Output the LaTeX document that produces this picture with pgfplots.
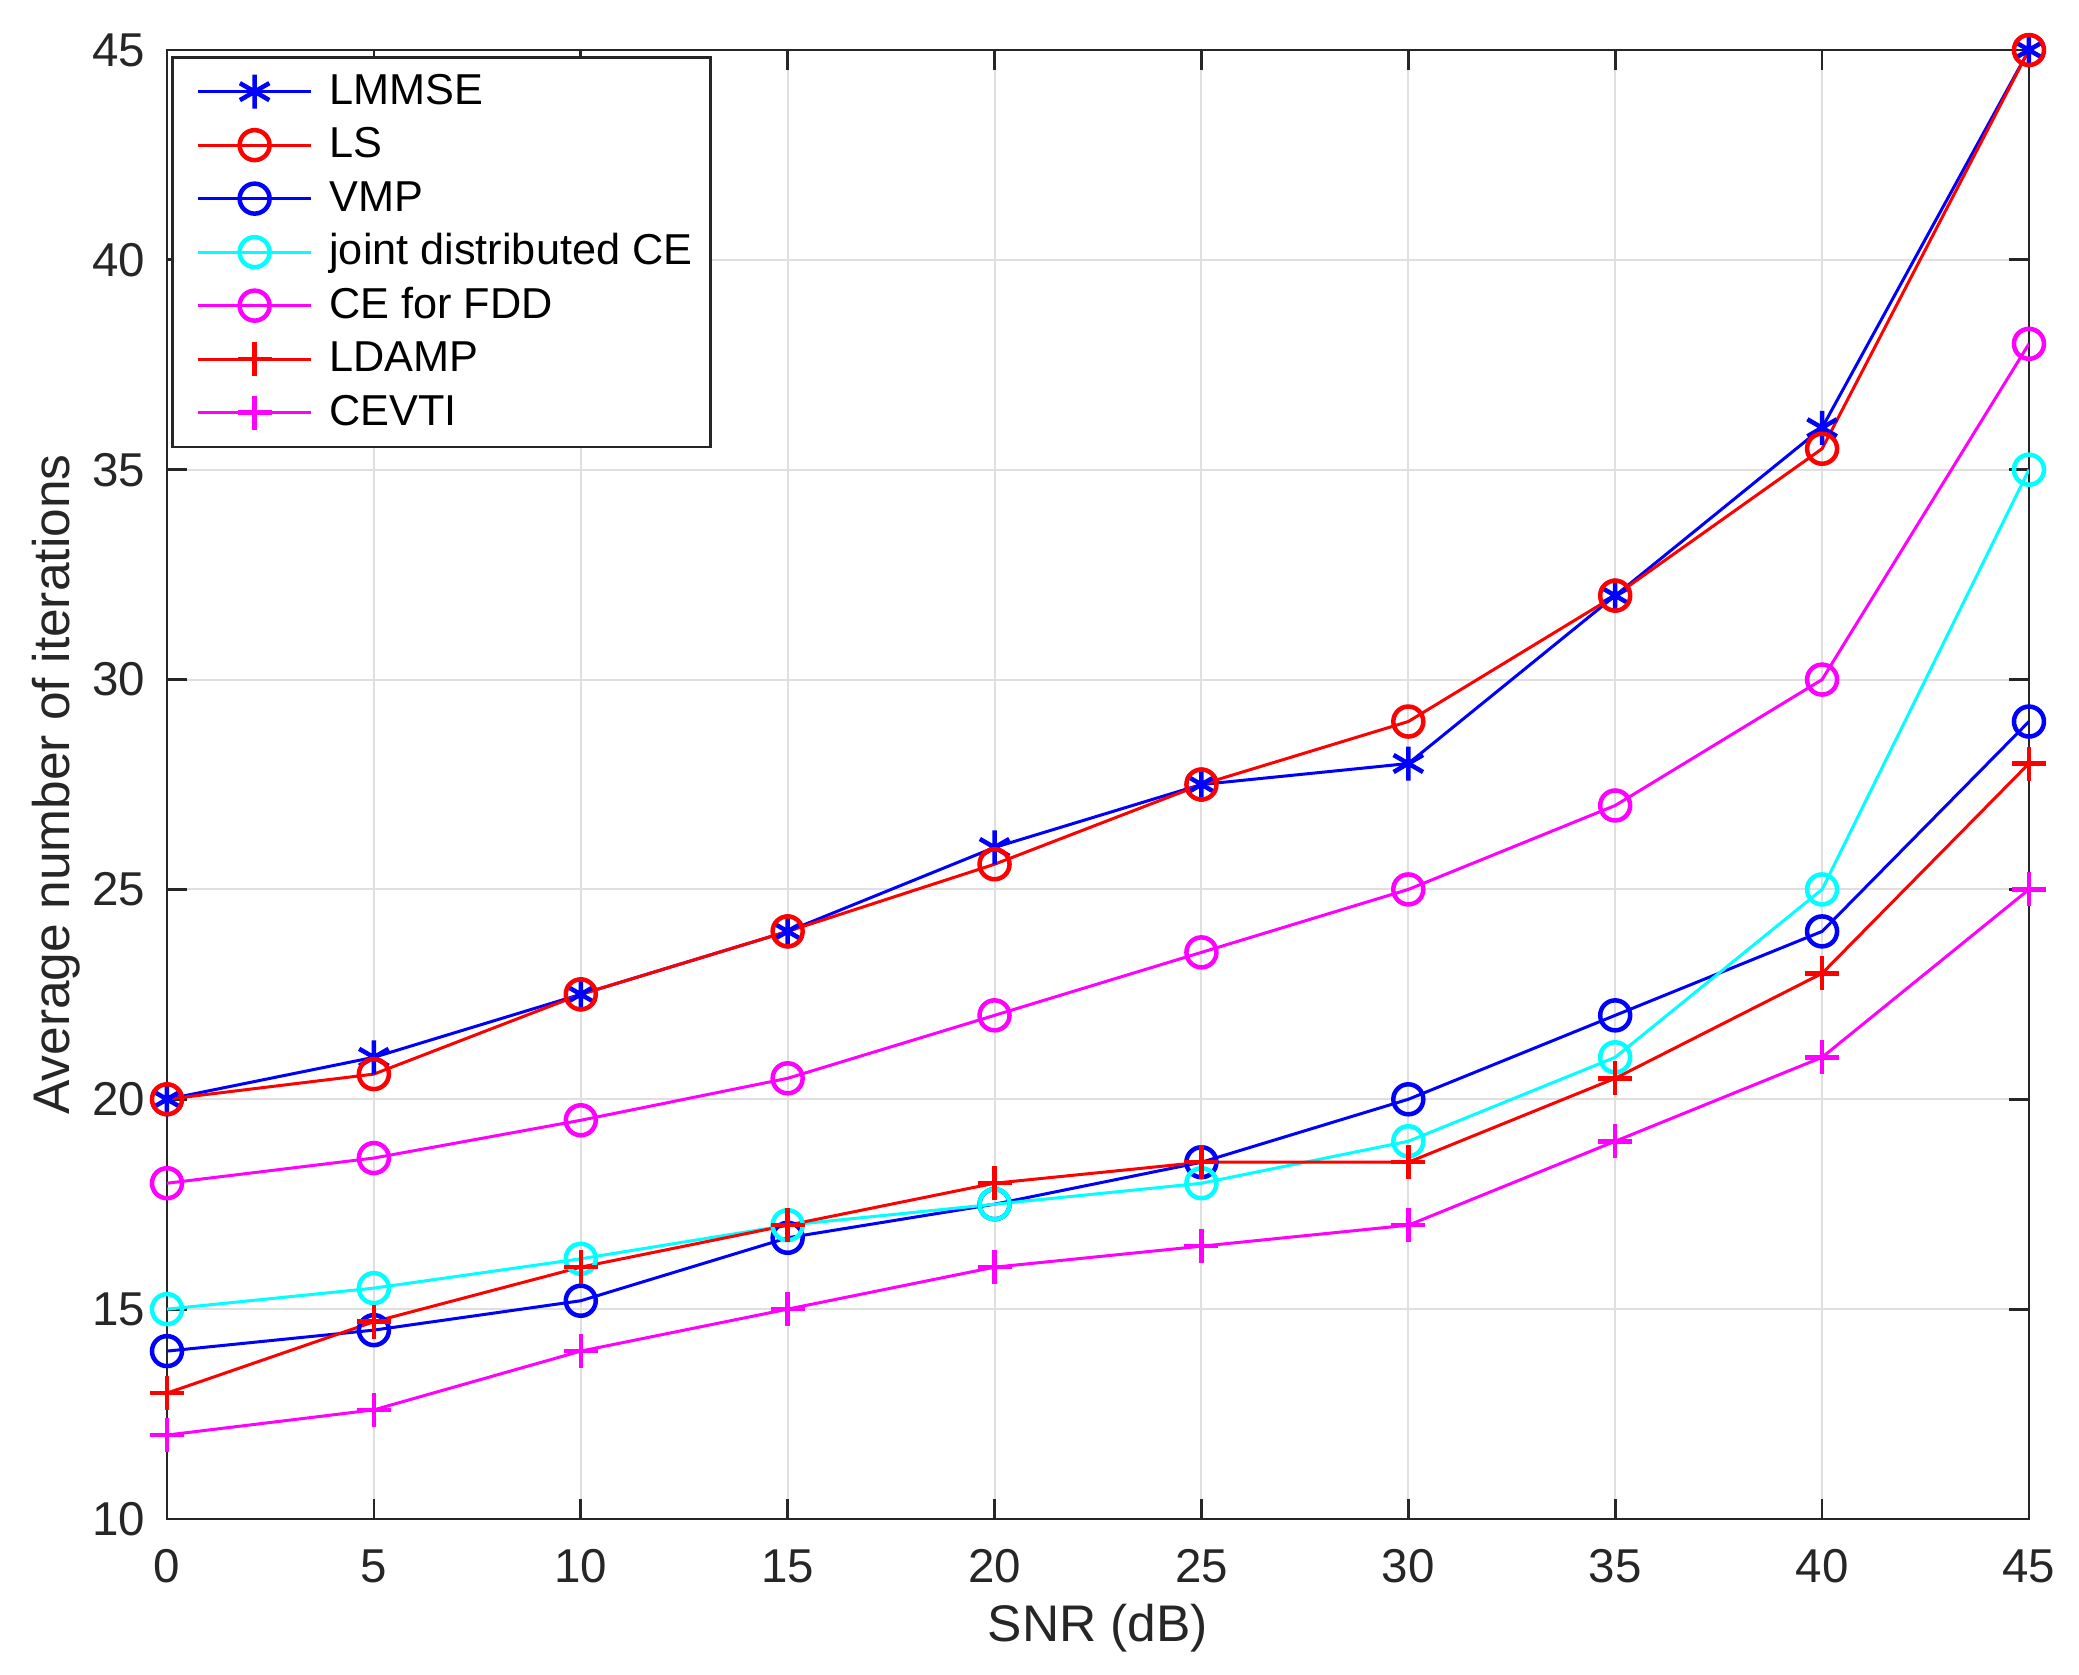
\documentclass[border=0pt]{standalone}
\usepackage{fontspec}
\setmainfont{Liberation Sans}
\usepackage{pgfplots}
\pgfplotsset{compat=1.18}
\definecolor{axgray}{RGB}{38,38,38}
\definecolor{gridgray}{RGB}{223,223,223}
\definecolor{mblue}{RGB}{0,0,255}
\definecolor{mred}{RGB}{255,0,0}
\definecolor{mcyan}{RGB}{0,255,255}
\definecolor{mmagenta}{RGB}{255,0,255}
\begin{document}
\begin{tikzpicture}
\begin{axis}[
  scale only axis, width=372.4pt, height=293.8pt,
  xmin=0, xmax=45, ymin=10, ymax=45,
  xtick={0,5,...,45}, ytick={10,15,...,45},
  grid=major, major grid style={gridgray, line width=0.4pt},
  axis line style={axgray, line width=0.55pt},
  tick style={axgray, line width=0.55pt},
  tick align=inside, major tick length=4pt,
  /pgf/number format/assume math mode=true,
  ticklabel style={font=\fontsize{9.5}{11}\selectfont, text=axgray},
  xticklabel style={yshift=-2.6pt},
  yticklabel style={xshift=-0.8pt},
  xlabel={SNR (dB)},
  ylabel={Average number of iterations},
  label style={font=\fontsize{10.3}{12}\selectfont, text=axgray},
  xlabel style={at={(axis description cs:0.5,0)}, anchor=center, yshift=-21.8pt},
  ylabel style={at={(axis description cs:-0.0596,0.5)}, anchor=center},
  legend style={at={(rel axis cs:0,1)}, anchor=north west, xshift=0.9pt, yshift=-1.2pt,
    draw=axgray, line width=0.55pt, inner xsep=2.2pt, inner ysep=1.5pt,
    font=\fontsize{8.65}{10}\selectfont, text=black,
    nodes={inner xsep=1.5pt, inner ysep=1.35pt, text height=6.5pt, text depth=1.5pt}},
  legend cell align=left,
  legend image code/.code={\path (-2.6pt,0pt) (24.4pt,0pt);
    \draw[mark repeat=2,mark phase=2] plot coordinates {(0pt,0pt) (11.25pt,0pt) (22.5pt,0pt)};},
  every axis plot/.append style={line width=0.6pt},
  omark/.style={mark=o, mark size=3pt, mark options={line width=0.9pt}},
  pmark/.style={mark=+, mark size=3.4pt, mark options={line width=0.9pt}},
]
\addplot[mblue, mark=asterisk, mark size=3.4pt, mark options={line width=0.9pt}] coordinates {
(0,20) (5,21) (10,22.5) (15,24) (20,26) (25,27.5) (30,28) (35,32) (40,36) (45,45)};
\addlegendentry{LMMSE}
\addplot[mred, omark] coordinates {
(0,20) (5,20.6) (10,22.5) (15,24) (20,25.6) (25,27.5) (30,29) (35,32) (40,35.5) (45,45)};
\addlegendentry{LS}
\addplot[mblue, omark] coordinates {
(0,14) (5,14.5) (10,15.2) (15,16.7) (20,17.5) (25,18.5) (30,20) (35,22) (40,24) (45,29)};
\addlegendentry{VMP}
\addplot[mcyan, omark] coordinates {
(0,15) (5,15.5) (10,16.2) (15,17) (20,17.5) (25,18) (30,19) (35,21) (40,25) (45,35)};
\addlegendentry{joint distributed CE}
\addplot[mmagenta, omark] coordinates {
(0,18) (5,18.6) (10,19.5) (15,20.5) (20,22) (25,23.5) (30,25) (35,27) (40,30) (45,38)};
\addlegendentry{CE for FDD}
\addplot[mred, pmark] coordinates {
(0,13) (5,14.7) (10,16) (15,17) (20,18) (25,18.5) (30,18.5) (35,20.5) (40,23) (45,28)};
\addlegendentry{LDAMP}
\addplot[mmagenta, pmark] coordinates {
(0,12) (5,12.6) (10,14) (15,15) (20,16) (25,16.5) (30,17) (35,19) (40,21) (45,25)};
\addlegendentry{CEVTI}
\end{axis}
\pgfresetboundingbox
\path (-33.4pt,-31.2pt) rectangle (382.4pt,303.8pt);
\end{tikzpicture}
\end{document}
